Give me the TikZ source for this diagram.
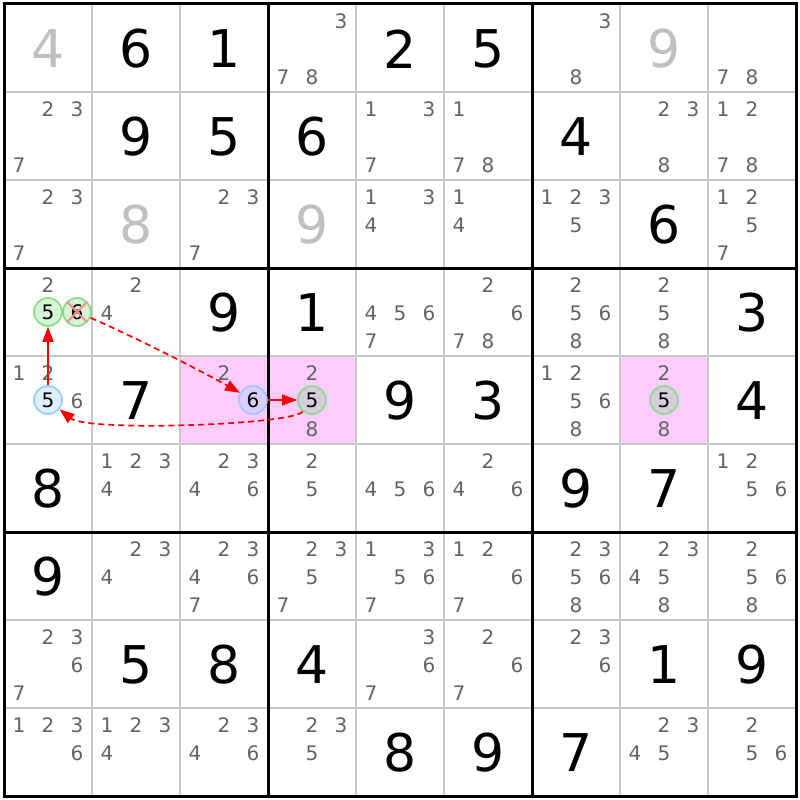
\documentclass[tikz,border=0pt]{standalone}
\usepackage{fontspec}
\setmainfont{DejaVu Sans}
\usetikzlibrary{arrows.meta}
\definecolor{candc}{RGB}{100,100,100}
\definecolor{givc}{RGB}{192,192,192}
\definecolor{hlc}{RGB}{255,204,255}
\definecolor{thinc}{RGB}{200,200,200}
\definecolor{gfill}{RGB}{214,245,214}
\definecolor{gfillp}{RGB}{214,206,218}
\definecolor{gline}{RGB}{130,220,130}
\definecolor{bfill}{RGB}{221,238,255}
\definecolor{bfillp}{RGB}{221,204,255}
\definecolor{bline}{RGB}{150,200,255}
\definecolor{xred}{RGB}{255,140,140}
\definecolor{arrred}{RGB}{255,0,0}
\tikzset{
  bigd/.style={inner sep=0pt, font=\fontsize{52}{52}\selectfont},
  cnd/.style={inner sep=0pt, text=candc, font=\fontsize{20}{20}\selectfont},
  circd/.style={circle, inner sep=0pt, minimum size=28pt, line width=1.6pt, text=black, font=\fontsize{20}{20}\selectfont},
  gw/.style={circd, draw=gline, fill=gfill},
  gp/.style={circd, draw=gline, fill=gfillp},
  bw/.style={circd, draw=bline, fill=bfill},
  bp/.style={circd, draw=bline, fill=bfillp},
  link/.style={draw=arrred, line width=1.7pt, -{Triangle[length=15pt,width=11pt]}},
  dlink/.style={link, dash pattern=on 6pt off 4pt},
  xmark/.style={draw=xred, line width=2pt}
}
\newcommand\gv[4][black]{\node[bigd,text=#1] (v#2#3) at ({48+88*(#3-1)},{48+88*(#2-1)+1}) {#4};}
\newcommand\cd[3]{\foreach \d in {#3}{%
  \pgfmathsetmacro\px{48+88*(#2-1)+29*(mod(\d-1,3)-1)}%
  \pgfmathsetmacro\py{48+88*(#1-1)-27+28.3*int((\d-1)/3)}%
  \node[cnd] (c#1#2\d) at (\px,\py) {\d};}}
\begin{document}
\begin{tikzpicture}[x=1pt,y=-1pt]
\useasboundingbox (0,0) rectangle (800,800);
\fill[white] (0,0) rectangle (800,800);
% highlighted cells
\fill[hlc] (180,356) rectangle (356,444);
\fill[hlc] (620,356) rectangle (708,444);
% thin lines
\foreach \i in {1,2,4,5,7,8}{
  \draw[thinc, line width=1.5pt] ({4+88*\i},4) -- ({4+88*\i},796);
  \draw[thinc, line width=1.5pt] (4,{4+88*\i}) -- (796,{4+88*\i});
}
% thick lines
\foreach \i in {0,3,6,9}{
  \draw[black, line width=3pt] ({4+88*\i},2.5) -- ({4+88*\i},797.5);
  \draw[black, line width=3pt] (2.5,{4+88*\i}) -- (797.5,{4+88*\i});
}
% values
\gv[givc]{1}{1}{4}\gv{1}{2}{6}\gv{1}{3}{1}\gv{1}{5}{2}\gv{1}{6}{5}\gv[givc]{1}{8}{9}
\gv{2}{2}{9}\gv{2}{3}{5}\gv{2}{4}{6}\gv{2}{7}{4}
\gv[givc]{3}{2}{8}\gv[givc]{3}{4}{9}\gv{3}{8}{6}
\gv{4}{3}{9}\gv{4}{4}{1}\gv{4}{9}{3}
\gv{5}{2}{7}\gv{5}{5}{9}\gv{5}{6}{3}\gv{5}{9}{4}
\gv{6}{1}{8}\gv{6}{7}{9}\gv{6}{8}{7}
\gv{7}{1}{9}
\gv{8}{2}{5}\gv{8}{3}{8}\gv{8}{4}{4}\gv{8}{8}{1}\gv{8}{9}{9}
\gv{9}{5}{8}\gv{9}{6}{9}\gv{9}{7}{7}
% candidates
\cd{1}{4}{3,7,8}\cd{1}{7}{3,8}\cd{1}{9}{7,8}
\cd{2}{1}{2,3,7}\cd{2}{5}{1,3,7}\cd{2}{6}{1,7,8}\cd{2}{8}{2,3,8}\cd{2}{9}{1,2,7,8}
\cd{3}{1}{2,3,7}\cd{3}{3}{2,3,7}\cd{3}{5}{1,3,4}\cd{3}{6}{1,4}\cd{3}{7}{1,2,3,5}\cd{3}{9}{1,2,5,7}
\cd{4}{1}{2}\cd{4}{2}{2,4}\cd{4}{5}{4,5,6,7}\cd{4}{6}{2,6,7,8}\cd{4}{7}{2,5,6,8}\cd{4}{8}{2,5,8}
\cd{5}{1}{1,2,6}\cd{5}{3}{2}\cd{5}{4}{2,8}\cd{5}{7}{1,2,5,6,8}\cd{5}{8}{2,8}
\cd{6}{2}{1,2,3,4}\cd{6}{3}{2,3,4,6}\cd{6}{4}{2,5}\cd{6}{5}{4,5,6}\cd{6}{6}{2,4,6}\cd{6}{9}{1,2,5,6}
\cd{7}{2}{2,3,4}\cd{7}{3}{2,3,4,6,7}\cd{7}{4}{2,3,5,7}\cd{7}{5}{1,3,5,6,7}\cd{7}{6}{1,2,6,7}\cd{7}{7}{2,3,5,6,8}\cd{7}{8}{2,3,4,5,8}\cd{7}{9}{2,5,6,8}
\cd{8}{1}{2,3,6,7}\cd{8}{5}{3,6,7}\cd{8}{6}{2,6,7}\cd{8}{7}{2,3,6}
\cd{9}{1}{1,2,3,6}\cd{9}{2}{1,2,3,4}\cd{9}{3}{2,3,4,6}\cd{9}{4}{2,3,5}\cd{9}{8}{2,3,4,5}\cd{9}{9}{2,5,6}
% circled candidates
\node[gw] (g415) at (48,312) {5};
\node[gw] (g416) at (77,312) {6};
\node[bw] (b515) at (48,400) {5};
\node[bp] (b536) at (253,400) {6};
\node[gp] (g545) at (312,400) {5};
\node[gp] (g585) at (664,400) {5};
% eliminated candidate
\draw[xmark] ([shift={(-10,-10)}]g416.center) -- ([shift={(10,10)}]g416.center);
\draw[xmark] ([shift={(-10,10)}]g416.center) -- ([shift={(10,-10)}]g416.center);
% links
\draw[link] (b515) -- (g415);
\draw[dlink] (g416) .. controls +(60,26) and +(-50,-28) .. (b536);
\draw[link] (b536) -- (g545);
\draw[dlink] (g545) .. controls +(-20,25) and +(40,32) .. (b515);
\end{tikzpicture}
\end{document}
